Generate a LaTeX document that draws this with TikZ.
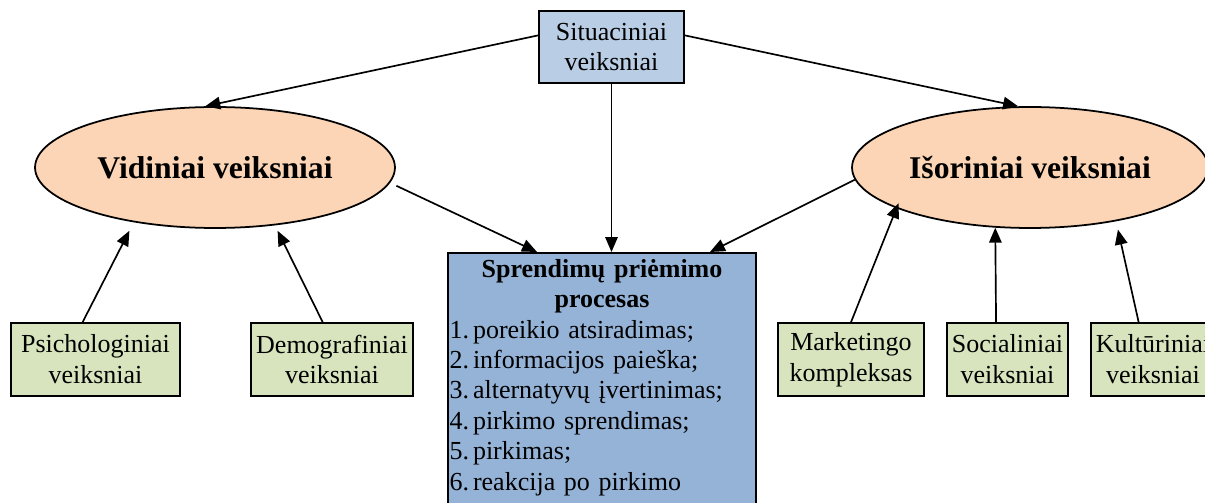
\documentclass[tikz,border=0pt]{standalone}
\usepackage{fontspec}
\setmainfont{Liberation Serif}
\usetikzlibrary{arrows.meta, shapes.geometric}
\definecolor{sitblue}{RGB}{185, 205, 229}
\definecolor{procblue}{RGB}{149, 179, 215}
\definecolor{ovalpeach}{RGB}{251, 213, 181}
\definecolor{facgreen}{RGB}{215, 228, 189}
\newcommand{\boxfont}{\fontsize{14.8}{17.6}\selectfont}
\newcommand{\ovalfont}{\fontsize{18}{21}\selectfont\bfseries}
\newcommand{\procfont}{\fontsize{14.8}{17.3}\selectfont}
\newcommand{\stepno}[1]{\makebox[0.47cm][l]{#1.}}
\tikzset{
    fac/.style     ={draw=black, line width=1pt, fill=facgreen, align=center,
                     font=\boxfont, inner sep=1pt, minimum height=1.46cm},
    sitbox/.style  ={fac, fill=sitblue, minimum height=1.44cm},
    oval/.style    ={ellipse, draw=black, line width=1pt, fill=ovalpeach,
                     font=\ovalfont, minimum height=2.42cm, inner sep=0pt},
    procbox/.style ={draw=black, line width=1pt, fill=procblue,
                     minimum width=6.16cm, minimum height=6cm, anchor=north},
    proctxt/.style ={text width=6.1cm, inner sep=0pt, anchor=north,
                     font=\procfont},
    ar/.style      ={-{Triangle[length=0.3cm, width=0.25cm]}, line width=0.95pt}
}

\begin{document}
\begin{tikzpicture}[x=0.02cm, y=-0.02cm]
  \useasboundingbox (0,0) rectangle (1205,503);
  \clip (0,0) rectangle (1205,503);

  % top and the two groups
  \node[sitbox, minimum width=2.9cm] (sit) at (611.5,47) {Situaciniai\\veiksniai};
  \node[oval, minimum width=7.2cm]  (vid) at (215,167.5)  {Vidiniai veiksniai};
  \node[oval, minimum width=7.12cm] (iso) at (1030,167.5) {Išoriniai veiksniai};

  % decision process
  \node[procbox] (proc) at (602,252) {};
  \node[proctxt] (proctext) at (602,259) {%
    {\centering\bfseries Sprendimų priėmimo\\procesas\par}
    \raggedright\parindent=0pt
    \stepno{1}poreikio atsiradimas;\par
    \stepno{2}informacijos paieška;\par
    \stepno{3}alternatyvų įvertinimas;\par
    \stepno{4}pirkimo sprendimas;\par
    \stepno{5}pirkimas;\par
    \stepno{6}reakcija po pirkimo\par};

  % factors
  \node[fac, minimum width=3.38cm] (psy)  at (95.5,359.5) {Psichologiniai\\veiksniai};
  \node[fac, minimum width=3.24cm] (demo) at (332,359.5)  {Demografiniai\\veiksniai};
  \node[fac, minimum width=2.92cm] (mkt)  at (851,359.5)  {Marketingo\\kompleksas};
  \node[fac, minimum width=2.42cm] (soc)  at (1007.5,359.5) {Socialiniai\\veiksniai};
  \node[fac, minimum width=2.48cm] (kul)  at (1153,359.5) {Kultūriniai\\veiksniai};

  \draw[ar] (sit.171) -- (vid.99);
  \draw[ar] (sit.9) -- (iso.101);
  \draw[ar] (sit.south) -- (sit.south |- proc.north);
  \draw[ar, shorten <=0.14cm] (vid.355) -- ([xshift=-1.3cm]proc.north);
  \draw[ar] (iso.184) -- ([xshift=2.16cm]proc.north);

  \draw[ar, shorten >=0.19cm] (psy.109) -- (vid.214);
  \draw[ar, shorten >=0.12cm] (demo.104) -- (vid.316);
  \draw[ar, shorten >=-0.11cm] (mkt.north) -- (iso.197);
  \draw[ar] (soc.107.5) -- (iso.240);
  \draw[ar, shorten >=0.17cm] (kul.111) -- (iso.328);
\end{tikzpicture}
\end{document}
